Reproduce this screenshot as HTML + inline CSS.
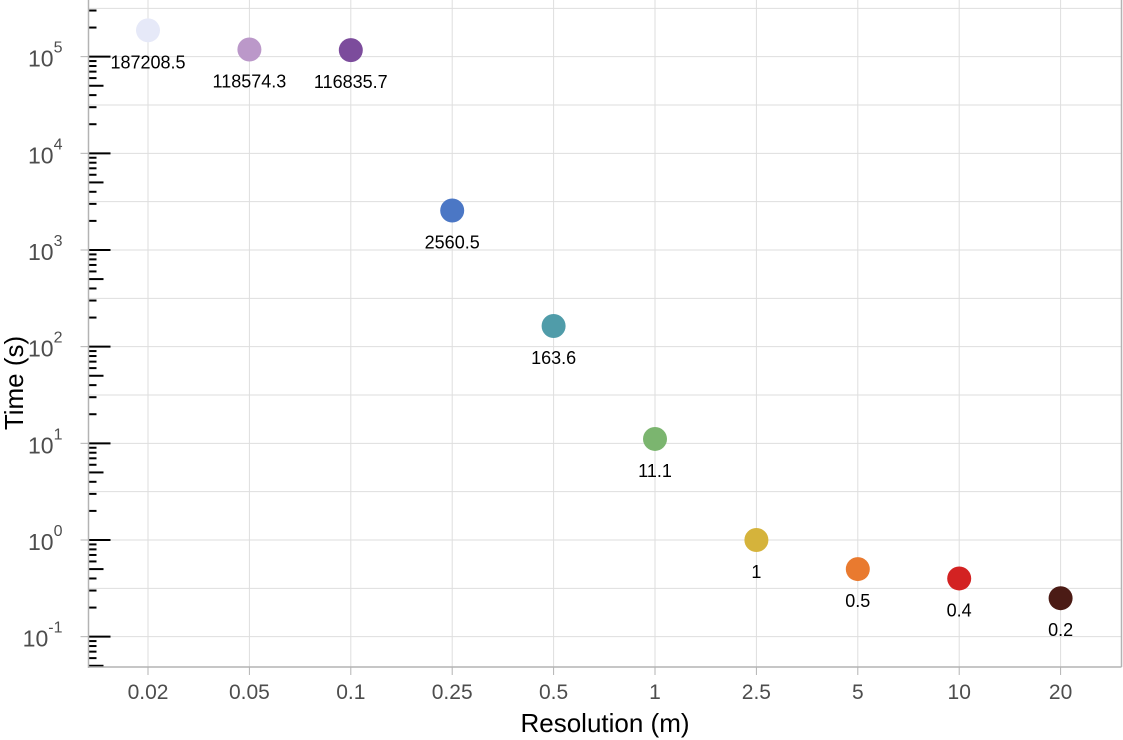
<!DOCTYPE html>
<html><head><meta charset="utf-8"><style>
body{margin:0;background:#fff;}
svg{display:block;font-family:"Liberation Sans",Arial,sans-serif;}
</style></head><body>
<svg id="chart" width="1123" height="740" xmlns="http://www.w3.org/2000/svg"></svg>
<script>
const categories=["0.02","0.05","0.1","0.25","0.5","1","2.5","5","10","20"];
const times=[187208.5,118574.3,116835.7,2560.5,163.6,11.1,1,0.5,0.4,0.25];
const labels=["187208.5","118574.3","116835.7","2560.5","163.6","11.1","1","0.5","0.4","0.2"];
const colors=["#e6e9f8","#bb98c9","#7c4c9c","#4b77c5","#509ca9","#7bb56f","#d5b33b","#e97a2f","#d32222","#4b1b15"];
const yExps=[-1,0,1,2,3,4,5];

const svg=document.getElementById('chart');
const NS="http://www.w3.org/2000/svg";
const L=88.5,R=1121.5,T=0,B=667;
const yPx=v=>540-Math.log10(v)*96.67;
const xPx=i=>148+i*101.4;
function mk(tag,attrs,parent){const e=document.createElementNS(NS,tag);for(const k in attrs)e.setAttribute(k,attrs[k]);(parent||svg).appendChild(e);return e;}

const grid=mk('g',{});


for(let e=-1.5;e<=5.5;e+=0.5){const y=540-e*96.67;if(y<T||y>B)continue;mk('line',{x1:L,x2:R,y1:y,y2:y,stroke:'#dedede','stroke-width':1},grid);}
categories.forEach((c,i)=>{mk('line',{x1:xPx(i),x2:xPx(i),y1:T,y2:B,stroke:'#dedede','stroke-width':1},grid);});

const lt=mk('g',{});


for(let e=-2;e<=5;e++){for(let m=1;m<=9;m++){const y=yPx(m*Math.pow(10,e));if(y<T||y>B+1)continue;const len=m===1?22:(m===5?15:8);mk('line',{x1:L,x2:L+len,y1:y,y2:y,stroke:'#000','stroke-width':2},lt);}}

mk('line',{x1:L,x2:L,y1:T,y2:B+1,stroke:'#b3b3b3','stroke-width':1.5});
mk('line',{x1:L,x2:R,y1:B,y2:B,stroke:'#b3b3b3','stroke-width':1.5});
mk('line',{x1:R,x2:R,y1:T,y2:B,stroke:'#b3b3b3','stroke-width':1.5});

yExps.forEach(e=>{const y=yPx(Math.pow(10,e));
mk('line',{x1:L-8,x2:L,y1:y,y2:y,stroke:'#b3b3b3','stroke-width':1});
const t=mk('text',{x:L-26,y:y+10,'text-anchor':'end','font-size':23,fill:'#4d4d4d'});


t.textContent='10';const s=mk('tspan',{dy:-14,'font-size':16},t);s.textContent=String(e);});

categories.forEach((c,i)=>{const x=xPx(i);
mk('line',{x1:x,x2:x,y1:B,y2:B+8,stroke:'#b3b3b3','stroke-width':1});
const t=mk('text',{x:x,y:699,'text-anchor':'middle','font-size':21,fill:'#4d4d4d'});


t.textContent=c;});

times.forEach((v,i)=>{const x=xPx(i),y=yPx(v);
const c=mk('circle',{cx:x,cy:y,r:12,fill:colors[i]});


const t=mk('text',{x:x,y:y+38,'text-anchor':'middle','font-size':18,fill:'#000'});


t.textContent=labels[i];});

const xt=mk('text',{x:605,y:732,'text-anchor':'middle','font-size':26,fill:'#000'});


xt.textContent='Resolution (m)';
const yt=mk('text',{x:0,y:0,'text-anchor':'middle','font-size':26,fill:'#000',transform:'translate(23,383) rotate(-90)'});


yt.textContent='Time (s)';
</script>
</body></html>
